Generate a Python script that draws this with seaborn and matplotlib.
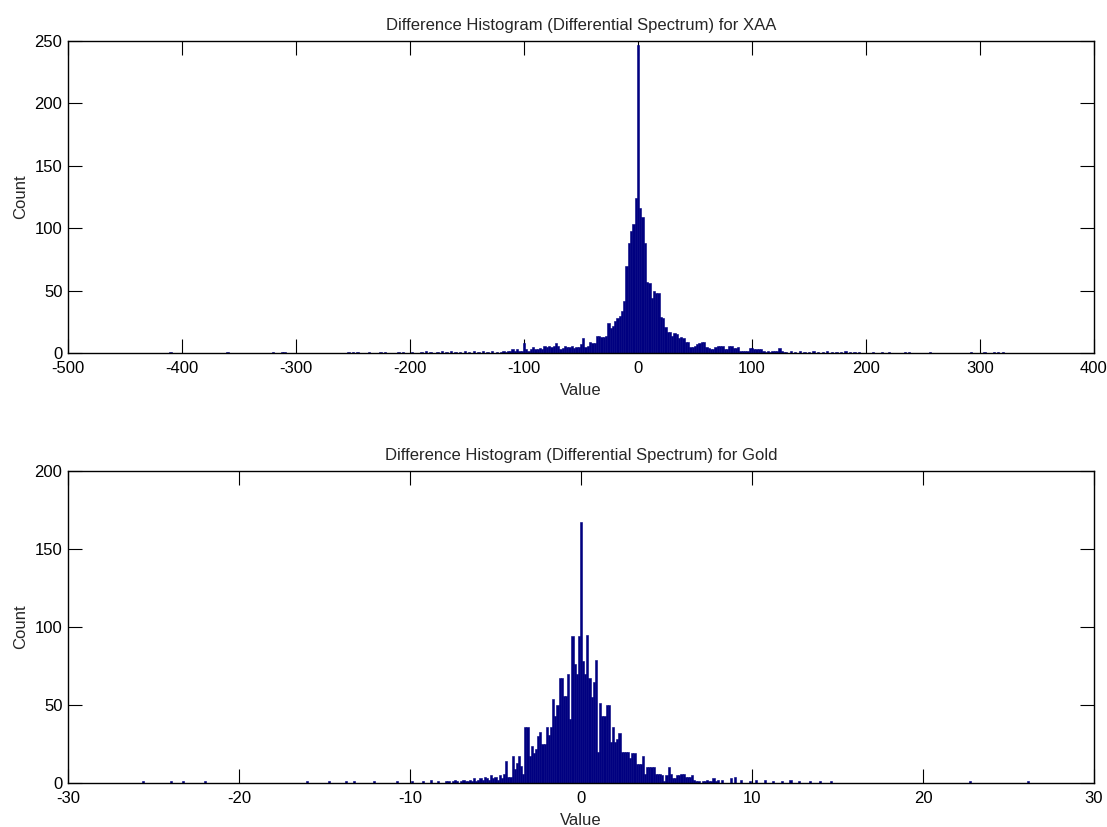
import numpy as np
import pandas as pd
import matplotlib
matplotlib.use("Agg")
import matplotlib.pyplot as plt
import seaborn as sns

# ---- XAA: bins of width 2, dense part from -120 to 130 (counts)
xaa_dense_start, xaa_dense_step = -120, 2
xaa_dense_counts = [
    1, 2, 1, 2, 2, 3, 2, 3, 2, 2,          # -120 .. -102
    8, 3, 2, 3, 5, 3, 3, 4, 3, 6,          # -100 .. -82
    5, 6, 5, 6, 8, 6, 3, 4, 6, 5,          # -80 .. -62
    5, 6, 4, 5, 5, 7, 12, 5, 6, 9,         # -60 .. -42
    8, 8, 14, 14, 13, 13, 14, 24, 20, 22,  # -40 .. -22
    26, 28, 30, 34, 42, 70, 88, 98, 103, 124,  # -20 .. -2
    247,                                   # 0
    116, 109, 88, 57, 56, 44, 50, 48, 48, 29,  # 2 .. 20
    28, 21, 17, 17, 14, 16, 15, 12, 13, 12,    # 22 .. 40
    9, 9, 5, 5, 6, 7, 8, 9, 9, 5,              # 42 .. 60
    4, 3, 3, 5, 6, 6, 6, 3, 3, 6,              # 62 .. 80
    6, 4, 4, 5, 2, 2, 2, 2, 4, 4,              # 82 .. 100
    3, 3, 3, 3, 2, 1, 2, 1, 2, 2,              # 102 .. 120
    2, 4, 2, 1, 1,                             # 122 .. 130
]
# sparse outliers in the tails
xaa_tail_values = [-410, -360, -320, -312, -310, -254, -250, -246, -236, -226,
                   -222, -210, -206, -198, -190, -186, -182, -176, -172, -168,
                   -164, -160, -156, -152, -148, -144, -140, -136, -132, -128,
                   -124, 134, 138, 142, 146, 150, 154, 158, 162, 166, 170, 174,
                   178, 182, 186, 190, 194, 206, 214, 220, 234, 238, 256, 292,
                   304, 312, 316, 320]
xaa_tail_counts = [1, 1, 1, 1, 1, 1, 1, 1, 1, 1,
                   1, 1, 1, 1, 1, 2, 1, 1, 2, 1,
                   2, 1, 1, 2, 1, 2, 1, 2, 1, 2,
                   1, 2, 1, 2, 1, 1, 2, 1, 1, 2, 1, 1,
                   1, 2, 1, 1, 1, 1, 1, 1, 1, 1, 1, 1,
                   1, 1, 1, 1]

# ---- Gold: bins of width 0.125, dense part from -8 to 8
gold_step = 0.125
gold_peak = 167
gold_left = [  # going outward from 0 to the left
    94, 70, 76, 94, 41, 70, 56, 56, 67, 67, 50, 43, 54, 36, 31, 36, 25, 25, 33, 30,
    22, 19, 24, 17, 36, 36, 6, 11, 17, 13, 9, 17, 4, 4, 14, 6, 3, 5, 2, 4,
    3, 5, 2, 3, 4, 2, 3, 2, 1, 3, 1, 2, 1, 1, 2, 1, 0, 1, 2, 1,
    0, 1, 1, 0,
]
gold_right = [  # going outward from 0 to the right
    78, 70, 95, 67, 55, 65, 79, 20, 51, 43, 43, 50, 50, 26, 36, 26, 28, 32, 20, 20,
    20, 20, 16, 19, 19, 12, 12, 12, 17, 6, 10, 10, 10, 10, 6, 6, 6, 5, 1, 5,
    10, 6, 3, 3, 5, 5, 6, 6, 4, 4, 4, 5, 2, 1, 1, 0, 1, 1, 2, 1,
    1, 3, 1, 2,
]
gold_tail_values = [-25.6, -24.0, -23.3, -22.0, -16.0, -14.7, -13.7, -13.2, -12.1,
                    -10.7, -9.9, -9.3, -8.8, -8.4, 8.3, 8.7, 9.0, 9.4, 9.9, 10.3,
                    10.7, 11.2, 11.8, 12.3, 12.8, 13.4, 14.0, 14.6, 22.8, 26.1]
gold_tail_counts = [1, 1, 1, 1, 1, 1, 1, 1, 1,
                    1, 1, 1, 2, 1, 2, 3, 4, 2, 1, 2,
                    2, 1, 1, 2, 1, 1, 1, 1, 1, 1]

# build tables
xaa_centers = xaa_dense_start + xaa_dense_step * np.arange(len(xaa_dense_counts))
xaa = pd.DataFrame({
    "value": np.concatenate([xaa_centers, xaa_tail_values]).astype(float),
    "count": np.concatenate([xaa_dense_counts, xaa_tail_counts]).astype(float),
})
gold_counts = gold_left[::-1] + [gold_peak] + gold_right
gold_centers = gold_step * (np.arange(len(gold_counts)) - len(gold_left))
gold = pd.DataFrame({
    "value": np.concatenate([gold_centers, gold_tail_values]).astype(float),
    "count": np.concatenate([gold_counts, gold_tail_counts]).astype(float),
})

sns.set_style("ticks")
plt.rcParams["font.family"] = ["Liberation Sans", "DejaVu Sans"]
plt.rcParams["font.size"] = 12
plt.rcParams["axes.unicode_minus"] = False

fig = plt.figure(figsize=(11.07, 8.27), dpi=100)
W, H = 1107, 827
ax1 = fig.add_axes([68 / W, (H - 353) / H, 1026 / W, 312 / H])
ax2 = fig.add_axes([68 / W, (H - 783) / H, 1026 / W, 312 / H])

navy = "#000080"
xaa_bins = [float(b) for b in np.arange(-501, 402, 2)]
gold_bins = [float(b) for b in np.arange(-30.0625, 30.07, gold_step)]
sns.histplot(data=xaa, x="value", weights="count", bins=xaa_bins,
             color=navy, edgecolor=navy, linewidth=0.4, alpha=1, ax=ax1)
sns.histplot(data=gold, x="value", weights="count", bins=gold_bins,
             color=navy, edgecolor=navy, linewidth=0.4, alpha=1, ax=ax2)

setups = [
    (ax1, "XAA", (-500, 400), np.arange(-500, 401, 100), (0, 250), np.arange(0, 251, 50)),
    (ax2, "Gold", (-30, 30), np.arange(-30, 31, 10), (0, 200), np.arange(0, 201, 50)),
]
for ax, name, xl, xt, yl, yt in setups:
    ax.set_xlim(*xl)
    ax.set_ylim(*yl)
    ax.set_xticks(xt)
    ax.set_yticks(yt)
    ax.tick_params(direction="in", length=10, width=0.8, top=True, right=True,
                   labelsize=12, colors="black")
    ax.tick_params(axis="x", pad=6)
    ax.tick_params(axis="y", pad=4)
    for s in ax.spines.values():
        s.set_visible(True)
        s.set_linewidth(1)
        s.set_color("black")
    ax.set_title(f"Difference Histogram (Differential Spectrum) for {name}",
                 fontsize=12, pad=8)
    ax.set_xlabel("Value", fontsize=12, labelpad=5)
    ax.set_ylabel("Count", fontsize=12, labelpad=5)

fig.savefig("out.png", dpi=100, facecolor="white")
